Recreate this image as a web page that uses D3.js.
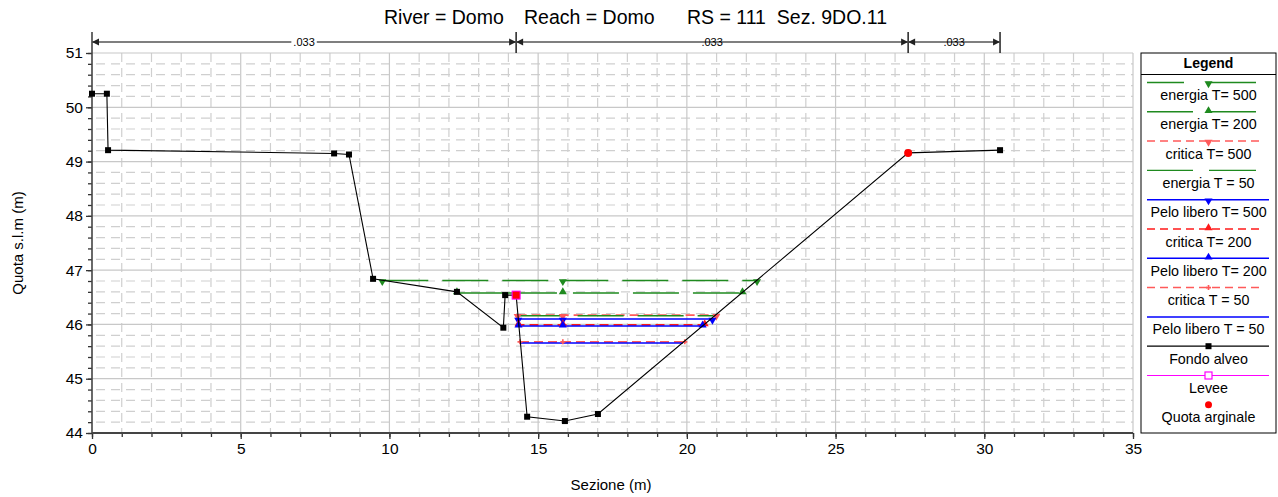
<!DOCTYPE html>
<html>
<head>
<meta charset="utf-8">
<script src="https://cdn.jsdelivr.net/npm/d3@7"></script>
<style>
  html, body { margin: 0; padding: 0; background: #fff; }
  svg { display: block; font-family: "Liberation Sans", Arial, sans-serif; }
</style>
</head>
<body>
<svg id="chart" width="1278" height="497"></svg>
<script>
// Cross-section ground profile (station, elevation)
const groundX = [0, 0.5, 0.54, 8.14, 8.64, 9.45, 12.27, 13.83, 13.89, 14.26, 14.63, 15.9, 17.01, 27.44, 30.53];
const groundY = [50.25, 50.25, 49.21, 49.15, 49.13, 46.84, 46.6, 45.94, 46.54, 46.54, 44.30, 44.22, 44.35, 49.16, 49.21];

// Levee / bank-top points
const leveeX = [14.26];
const leveeY = [46.54];
const bankTopX = [14.26, 27.44];
const bankTopY = [46.54, 49.16];

// Manning's n zones along the top
const nBounds = [0, 14.26, 27.44, 30.53];
const nValues = [".033", ".033", ".033"];

// Computed profiles: elevation and wetted extent
const profileNames = ["energia T= 500", "energia T= 200", "critica T= 500", "energia T = 50",
  "Pelo libero T= 500", "critica T= 200", "Pelo libero T= 200", "critica T = 50", "Pelo libero T = 50"];
const profileLevel = [46.81, 46.58, 46.17, 46.16, 46.10, 45.99, 45.97, 45.68, 45.66];
const profileLeft  = [9.76, 12.27, 14.31, 14.31, 14.33, 14.34, 14.34, 14.39, 14.39];
const profileRight = [22.36, 21.87, 20.99, 20.95, 20.86, 20.60, 20.53, 19.93, 19.87];
const profileMarkX = 15.83;

// Axis ticks
const xTicks = [0, 5, 10, 15, 20, 25, 30, 35];
const yTicks = [44, 45, 46, 47, 48, 49, 50, 51];

const titleParts = ["River = Domo", "Reach = Domo", "RS = 111  Sez. 9DO.11"];
const legendLabels = ["energia T= 500", "energia T= 200", "critica T= 500", "energia T = 50",
  "Pelo libero T= 500", "critica T= 200", "Pelo libero T= 200", "critica T = 50", "Pelo libero T = 50",
  "Fondo alveo", "Levee", "Quota arginale"];

// ---- styles per series ----
const GREEN = "#1f8a1f", BLUE = "#0000ff", RED = "#ff1a1a", PALERED = "#ff5a5a";
const styles = {
  "energia T= 500":     {color: GREEN, dash: "46,14", offset: 0,  width: 1.6, sym: "down"},
  "energia T= 200":     {color: GREEN, dash: "100,16,46,14,46,14,46,14,46,14", offset: 0, width: 1.6, sym: "up"},
  "critica T= 500":     {color: PALERED, dash: "9,5", offset: 0, width: 1.7, sym: "down"},
  "energia T = 50":     {color: GREEN, dash: "46,14", offset: 0, width: 1.4, sym: null},
  "Pelo libero T= 500": {color: BLUE, dash: null, width: 1.5, sym: "down"},
  "critica T= 200":     {color: RED, dash: "9,5", offset: 3, width: 1.7, sym: "up"},
  "Pelo libero T= 200": {color: BLUE, dash: null, width: 1.5, sym: "up"},
  "critica T = 50":     {color: PALERED, dash: "9,5", offset: 0, width: 1.7, sym: "cross"},
  "Pelo libero T = 50": {color: BLUE, dash: null, width: 1.5, sym: null}
};

const svg = d3.select("#chart");
const x = d3.scaleLinear().domain([0, 35]).range([92, 1133]);
const y = d3.scaleLinear().domain([44, 51]).range([433, 53]);

// ---- grid ----
const grid = svg.append("g");
const minorX = d3.range(1, 35, 1).filter(v => v % 5 !== 0);
const minorY = d3.range(44, 51.001, 0.2).map(v => +v.toFixed(1)).filter(v => Math.abs(v - Math.round(v)) > 1e-6);
grid.selectAll(".mx").data(minorX).join("line")
  .attr("x1", d => x(d)).attr("x2", d => x(d)).attr("y1", y(51)).attr("y2", y(44))
  .attr("stroke", "#cfcfcf").attr("stroke-width", 1.2).attr("stroke-dasharray", "9,6");
grid.selectAll(".my").data(minorY).join("line")
  .attr("x1", x(0)).attr("x2", x(35)).attr("y1", d => y(d)).attr("y2", d => y(d))
  .attr("stroke", "#cfcfcf").attr("stroke-width", 1.2).attr("stroke-dasharray", "9,6")
  .attr("stroke-dashoffset", -4);
grid.selectAll(".Mx").data(xTicks.slice(1)).join("line")
  .attr("x1", d => x(d)).attr("x2", d => x(d)).attr("y1", y(51)).attr("y2", y(44))
  .attr("stroke", "#c8c8c8").attr("stroke-width", 1.2);
grid.selectAll(".My").data(yTicks.slice(1)).join("line")
  .attr("x1", x(0)).attr("x2", x(35)).attr("y1", d => y(d)).attr("y2", d => y(d))
  .attr("stroke", "#c8c8c8").attr("stroke-width", 1.2);

// ---- axes ----
const xAxisMinor = d3.axisBottom(x).tickValues(d3.range(0, 36, 1)).tickSize(4).tickFormat("");
const xAxisMajor = d3.axisBottom(x).tickValues(xTicks).tickSize(6).tickPadding(4).tickFormat(d3.format("d"));
const yAxisMinor = d3.axisLeft(y).tickValues(d3.range(44, 51.001, 0.2)).tickSize(4).tickFormat("");
const yAxisMajor = d3.axisLeft(y).tickValues(yTicks).tickSize(6).tickPadding(3).tickFormat(d3.format("d"));

function styleAxis(g) {
  g.select(".domain").remove();
  g.selectAll(".tick line").attr("stroke", "#333").attr("stroke-width", 1.3);
  g.selectAll(".tick text").attr("fill", "#000").style("font-size", "15.5px")
    .style("font-family", "'Liberation Sans', Arial, sans-serif");
}
svg.append("g").attr("transform", `translate(0,${y(44)})`).call(xAxisMinor).call(styleAxis);
svg.append("g").attr("transform", `translate(0,${y(44)})`).call(xAxisMajor).call(styleAxis);
svg.append("g").attr("transform", `translate(${x(0)},0)`).call(yAxisMinor).call(styleAxis);
svg.append("g").attr("transform", `translate(${x(0)},0)`).call(yAxisMajor).call(styleAxis);
svg.append("line").attr("x1", x(0)).attr("x2", x(35)).attr("y1", y(44)).attr("y2", y(44))
  .attr("stroke", "#444").attr("stroke-width", 1.8);
svg.append("line").attr("x1", x(0)).attr("x2", x(0)).attr("y1", 32).attr("y2", y(44))
  .attr("stroke", "#444").attr("stroke-width", 1.6);

// axis titles
svg.append("text").attr("x", 611).attr("y", 490).attr("text-anchor", "middle")
  .style("font-size", "15px").text("Sezione (m)");
svg.append("text").attr("transform", `translate(23,243) rotate(-90)`).attr("text-anchor", "middle")
  .style("font-size", "15px").text("Quota s.l.m (m)");

// title
const titleX = [384, 524, 687];
titleParts.forEach((t, i) => {
  svg.append("text").attr("x", titleX[i]).attr("y", 24).style("font-size", "19.5px")
    .style("white-space", "pre").text(t);
});

// ---- Manning's n dimension line ----
const dimY = 42;
const nLayer = svg.append("g");
nBounds.slice(1).forEach(b => {
  nLayer.append("line").attr("x1", x(b)).attr("x2", x(b)).attr("y1", 32).attr("y2", 53)
    .attr("stroke", "#222").attr("stroke-width", 1.5);
});
nValues.forEach((v, i) => {
  const a = x(nBounds[i]), b = x(nBounds[i + 1]);
  nLayer.append("line").attr("x1", a).attr("x2", b).attr("y1", dimY).attr("y2", dimY)
    .attr("stroke", "#555").attr("stroke-width", 1.6);
  nLayer.append("path").attr("d", `M${a},${dimY} l7,-3.5 l0,7 z`).attr("fill", "#222");
  nLayer.append("path").attr("d", `M${b},${dimY} l-7,-3.5 l0,7 z`).attr("fill", "#222");
  const cx = (a + b) / 2;
  const lbl = nLayer.append("text").attr("x", cx).attr("y", dimY + 4).attr("text-anchor", "middle")
    .style("font-size", "11px").text(v);
  const w = lbl.node().getComputedTextLength();
  nLayer.insert("rect", "text").attr("x", cx - w / 2 - 2).attr("y", dimY - 3).attr("width", w + 4)
    .attr("height", 6).attr("fill", "#fff");
});

// ---- symbols ----
const triDown = d3.symbol().type(d3.symbolTriangle).size(28);
function drawSym(g, kind, px, py, color) {
  if (kind === "down") {
    g.append("path").attr("d", triDown()).attr("transform", `translate(${px},${py + 1}) rotate(180)`).attr("fill", color);
  } else if (kind === "up") {
    g.append("path").attr("d", triDown()).attr("transform", `translate(${px},${py - 1})`).attr("fill", color);
  } else if (kind === "cross") {
    g.append("path").attr("d", d3.symbol().type(d3.symbolCross).size(14)()).attr("transform", `translate(${px},${py})`).attr("fill", color);
  }
}

// ---- profiles ----
const prof = svg.append("g");
profileNames.forEach((name, i) => {
  const s = styles[name];
  const yy = y(profileLevel[i]);
  const ln = prof.append("line").attr("x1", x(profileLeft[i])).attr("x2", x(profileRight[i]))
    .attr("y1", yy).attr("y2", yy).attr("stroke", s.color).attr("stroke-width", s.width);
  if (s.dash) ln.attr("stroke-dasharray", s.dash).attr("stroke-dashoffset", s.offset);
});
profileNames.forEach((name, i) => {
  const s = styles[name];
  if (!s.sym) return;
  const yy = y(profileLevel[i]);
  [profileLeft[i], profileMarkX, profileRight[i]].forEach(px => drawSym(prof, s.sym, x(px), yy, s.color));
});

// ---- ground ----
const ground = groundX.map((v, i) => [v, groundY[i]]);
svg.append("path").datum(ground)
  .attr("d", d3.line().x(d => x(d[0])).y(d => y(d[1])))
  .attr("fill", "none").attr("stroke", "#000").attr("stroke-width", 1.1);
svg.append("g").selectAll("rect").data(ground).join("rect")
  .attr("x", d => x(d[0]) - 3).attr("y", d => y(d[1]) - 3).attr("width", 6).attr("height", 6)
  .attr("fill", "#000");

// bank tops and levee
svg.append("g").selectAll("circle").data(bankTopX.map((v, i) => [v, bankTopY[i]])).join("circle")
  .attr("cx", d => x(d[0])).attr("cy", d => y(d[1])).attr("r", 4).attr("fill", "#ff0000");
svg.append("g").selectAll("rect").data(leveeX.map((v, i) => [v, leveeY[i]])).join("rect")
  .attr("x", d => x(d[0]) - 4).attr("y", d => y(d[1]) - 4).attr("width", 8).attr("height", 8)
  .attr("fill", "#ff0000").attr("stroke", "#ff00ff").attr("stroke-width", 1);

// ---- legend ----
const lg = svg.append("g");
const LX = 1141, LW = 135, LY = 53, LH = 380, LC = LX + LW / 2;
lg.append("rect").attr("x", LX).attr("y", LY).attr("width", LW).attr("height", LH)
  .attr("fill", "#fff").attr("stroke", "#000").attr("stroke-width", 1);
lg.append("line").attr("x1", LX).attr("x2", LX + LW).attr("y1", 74.5).attr("y2", 74.5)
  .attr("stroke", "#000");
lg.append("text").attr("x", LC).attr("y", 68).attr("text-anchor", "middle")
  .style("font-size", "14px").style("font-weight", "bold").text("Legend");

const greenGaps = {"energia T= 500": [1184, 1206], "energia T= 200": [1193, 1206], "energia T = 50": [1193, 1209]};
legendLabels.forEach((lab, i) => {
  const ly = 82.5 + 29.3 * i;
  const s = styles[lab];
  if (s) {
    if (s.color === GREEN) {
      const g = greenGaps[lab];
      lg.append("line").attr("x1", 1147).attr("x2", g[0]).attr("y1", ly).attr("y2", ly)
        .attr("stroke", GREEN).attr("stroke-width", 1.4);
      lg.append("line").attr("x1", g[1]).attr("x2", 1256).attr("y1", ly).attr("y2", ly)
        .attr("stroke", GREEN).attr("stroke-width", 1.4);
    } else {
      const l = lg.append("line").attr("x1", 1147).attr("x2", s.dash ? 1264 : 1269)
        .attr("y1", ly).attr("y2", ly).attr("stroke", s.color).attr("stroke-width", 1.5);
      if (s.dash) l.attr("stroke-dasharray", "8,5");
    }
    if (s.sym) drawSym(lg, s.sym, LC, ly, s.color);
  } else if (lab === "Fondo alveo") {
    lg.append("line").attr("x1", 1147).attr("x2", 1269).attr("y1", ly).attr("y2", ly).attr("stroke", "#000").attr("stroke-width", 1.2);
    lg.append("rect").attr("x", LC - 3).attr("y", ly - 3).attr("width", 6).attr("height", 6).attr("fill", "#000");
  } else if (lab === "Levee") {
    lg.append("line").attr("x1", 1147).attr("x2", 1269).attr("y1", ly).attr("y2", ly).attr("stroke", "#ff00ff").attr("stroke-width", 1.2);
    lg.append("rect").attr("x", LC - 3.5).attr("y", ly - 3.5).attr("width", 7).attr("height", 7)
      .attr("fill", "#fff").attr("stroke", "#ff00ff").attr("stroke-width", 1.2);
  } else {
    lg.append("circle").attr("cx", LC).attr("cy", ly).attr("r", 3.5).attr("fill", "#ff0000");
  }
  lg.append("text").attr("x", LC).attr("y", ly + 17.5).attr("text-anchor", "middle")
    .style("font-size", "14.3px").text(lab);
});
</script>
</body>
</html>
